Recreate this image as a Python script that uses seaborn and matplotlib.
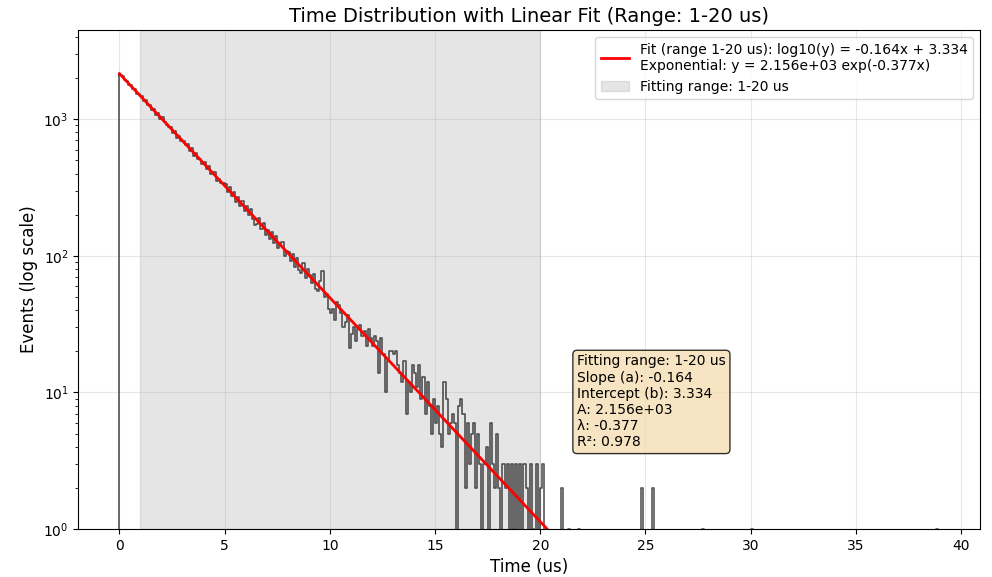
import numpy as np
import pandas as pd
import matplotlib
matplotlib.use("Agg")
import matplotlib.pyplot as plt
import seaborn as sns

# histogram counts, 0.1 us bins (0 - 21 us)
counts_head = [
    2098, 2060, 1931, 1915, 1795, 1780, 1660, 1655, 1540, 1530,
    1480, 1370, 1375, 1272, 1280, 1175, 1190, 1080, 1105, 1005,
    1030, 950, 915, 880, 880, 795, 820, 735, 760, 690,
    690, 645, 655, 585, 620, 540, 565, 515, 512, 470,
    490, 430, 455, 398, 410, 412, 355, 368, 340, 340,
    335, 292, 318, 272, 293, 250, 270, 230, 254, 212,
    232, 200, 220, 185, 168, 170, 190, 158, 175, 143,
    154, 132, 150, 125, 140, 114, 123, 126, 100, 108,
    106, 92, 104, 83, 97, 79, 75, 88, 69, 80,
    72, 63, 74, 57, 55, 66, 78, 50, 53, 41,
    38, 41, 34, 46, 44, 38, 30, 33, 37, 21,
    27, 30, 24, 29, 31, 26, 28, 22, 29, 25,
    22, 26, 24, 14, 25, 19, 10, 17, 20, 20,
    19, 20, 16, 14, 12, 17, 7, 12, 10, 16,
    14, 11, 16, 9, 13, 7, 12, 8, 5, 9,
    6, 8, 5, 4, 12, 9, 5, 6, 7, 6,
    0, 8, 9, 7, 2, 6, 3, 5, 6, 2,
    5, 3, 0, 3, 4, 0, 6, 3, 2, 5,
    2, 0, 3, 2, 3, 0, 3, 1, 3, 0,
    3, 0, 3, 2, 0, 3, 1, 0, 3, 0,
    2, 3, 0, 0, 0, 0, 0, 0, 0, 0,
]
# sparse tail after 21 us (bin index -> count)
tail_bins = [210, 213, 218, 248, 253, 277, 300, 388]
tail_counts = [2, 1, 1, 2, 2, 1, 1, 1]
n_bins = 390
bin_width = 0.1

# fit results
slope = -0.164
intercept = 3.334
A = 2.156e3
lam = -0.377
r2 = 0.978
fit_lo, fit_hi = 1, 20

counts = np.zeros(n_bins)
counts[:len(counts_head)] = counts_head
counts[tail_bins] = tail_counts
t_max = n_bins * bin_width
df = pd.DataFrame({"t": (np.arange(n_bins) + 0.5) * bin_width, "n": counts})

fig, ax = plt.subplots(figsize=(9.92, 5.77), dpi=100)
fig.subplots_adjust(left=0.079, right=0.988, top=0.948, bottom=0.083)

sns.histplot(data=df, x="t", weights="n", binwidth=bin_width, binrange=(0, t_max),
             element="step", fill=False, color="black", alpha=0.65, linewidth=1.2, ax=ax)
# left edge of the step outline
ax.plot([0, 0], [0.5, counts[0]], color="black", alpha=0.65, lw=1.2)

xfit = np.linspace(0, t_max, 400)
ax.plot(xfit, 10 ** (slope * xfit + intercept), color="red", lw=2,
        label=f"Fit (range {fit_lo}-{fit_hi} us): log10(y) = {slope:.3f}x + {intercept:.3f}\n"
              f"Exponential: y = {A:.3e} exp({lam:.3f}x)")
ax.axvspan(fit_lo, fit_hi, color="gray", alpha=0.2, label=f"Fitting range: {fit_lo}-{fit_hi} us")

ax.set_yscale("log")
ax.set_ylim(1, 4500)
ax.set_xlim(-1.95, 40.9)
ax.set_xticks(np.arange(0, 41, 5))
ax.grid(True, alpha=0.3)

ax.set_title(f"Time Distribution with Linear Fit (Range: {fit_lo}-{fit_hi} us)", fontsize=14)
ax.set_xlabel("Time (us)", fontsize=12)
ax.set_ylabel("Events (log scale)", fontsize=12)
ax.legend(loc="upper right", fontsize=10)

txt = (f"Fitting range: {fit_lo}-{fit_hi} us\nSlope (a): {slope:.3f}\nIntercept (b): {intercept:.3f}\n"
       f"A: {A:.3e}\n\u03bb: {lam:.3f}\nR\u00b2: {r2:.3f}")
ax.text(0.553, 0.35, txt, transform=ax.transAxes, fontsize=10, va="top",
        bbox=dict(boxstyle="round", facecolor="wheat", alpha=0.8))

plt.savefig("out.png", dpi=100)
